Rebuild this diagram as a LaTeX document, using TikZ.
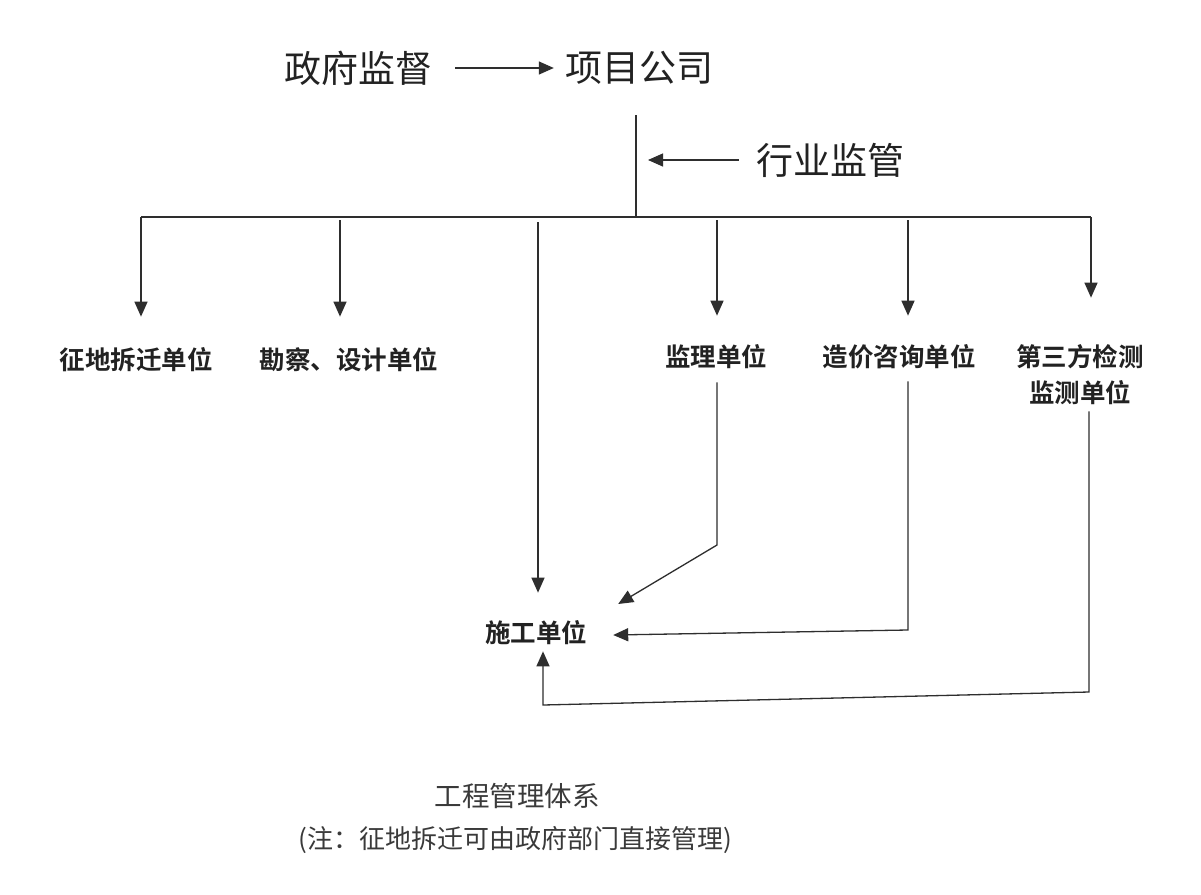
\documentclass[tikz,border=0pt]{standalone}
\usepackage{fontspec}
\usetikzlibrary{arrows.meta,calc}
\newfontfamily\cjk{Noto Sans CJK SC}
\newfontfamily\cjkb{Noto Sans CJK SC Bold}
\definecolor{ink}{HTML}{222222}
\definecolor{lncol}{HTML}{2e2e2e}
\definecolor{soft}{HTML}{3a3a3a}
\begin{document}
\begin{tikzpicture}[x=1pt,y=-1pt,
  big/.style={font=\cjk\fontsize{37}{40}\selectfont, text=ink, inner sep=0pt},
  unitlabel/.style={font=\cjkb\fontsize{25.5}{36}\selectfont, text=ink, inner sep=0pt, align=center},
  caption/.style={font=\cjk\fontsize{26}{30}\selectfont, text=soft, inner sep=0pt},
  conn/.style={draw=lncol, line width=1.3pt},
  arr/.style={conn, -{Triangle[length=15pt,width=13pt]}}]
\useasboundingbox[fill=white] (0,0) rectangle (1201,894);
% nodes
\node[big] (gov) at (358,68) {政府监督};
\node[big] (proj) at (639,68) {项目公司};
\node[big] (hy) at (830,160) {行业监管};
\node[unitlabel] (zd) at (136,360) {征地拆迁单位};
\node[unitlabel] (kc) at (349,360) {勘察、设计单位};
\node[unitlabel] (jl) at (716,357) {监理单位};
\node[unitlabel] (zj) at (899,357) {造价咨询单位};
\node[unitlabel] (ds) at (1080,375) {第三方检测\\监测单位};
\node[unitlabel] (sg) at (536,633) {施工单位};
\node[caption, font=\cjk\fontsize{27.5}{30}\selectfont] (t1) at (517,796) {工程管理体系};
\node[caption] (t2) at (515,840) {(注：征地拆迁可由政府部门直接管理)};
% coordinates
\coordinate (top) at (636,115);
\coordinate (hub) at (636,217);
\coordinate (b1) at (141,217);
\coordinate (b2) at (340,220);
\coordinate (b3) at (538,222);
\coordinate (b4) at (717,220);
\coordinate (b5) at (908,220);
\coordinate (b6) at (1091,217);
\coordinate (jb) at (717,545);
\coordinate (zb) at (908,630);
\coordinate (db1) at (1089,692);
\coordinate (db2) at (543,705);
% top connectors
\draw[arr] ([xshift=23pt]gov.east) -- ([xshift=-11pt]proj.west);
\draw[conn] (top) -- (hub);
\draw[arr] ([xshift=-17pt]hy.west) -- ([xshift=12pt]top |- hy.west);
\draw[conn] (b1) -- (b6);
% down arrows
\draw[arr] (b1) -- ($(b1 |- zd.north)+(0,-31)$);
\draw[arr] (b2) -- ($(b2 |- kc.north)+(0,-31)$);
\draw[arr] (b3) -- ($(b3 |- sg.north)+(0,-28)$);
\draw[arr] (b4) -- ($(b4 |- jl.north)+(0,-29)$);
\draw[arr] (b5) -- ($(b5 |- jl.north)+(0,-29)$);
\draw[arr] (b6) -- ($(b6 |- ds.north)+(0,-47)$);
% to construction unit
\draw[arr] ($(jl.south)+(1,13)$) -- (jb) -- ($(sg.east)+(31,-29)$);
\draw[arr] ($(zj.south |- jl.south)+(9,12)$) -- (zb) -- ($(sg.east)+(26,2)$);
\draw[arr] ($(ds.south)+(9,6)$) -- (db1) -- (db2) -- ($(db2 |- sg.south)+(0,6)$);
\end{tikzpicture}
\end{document}
